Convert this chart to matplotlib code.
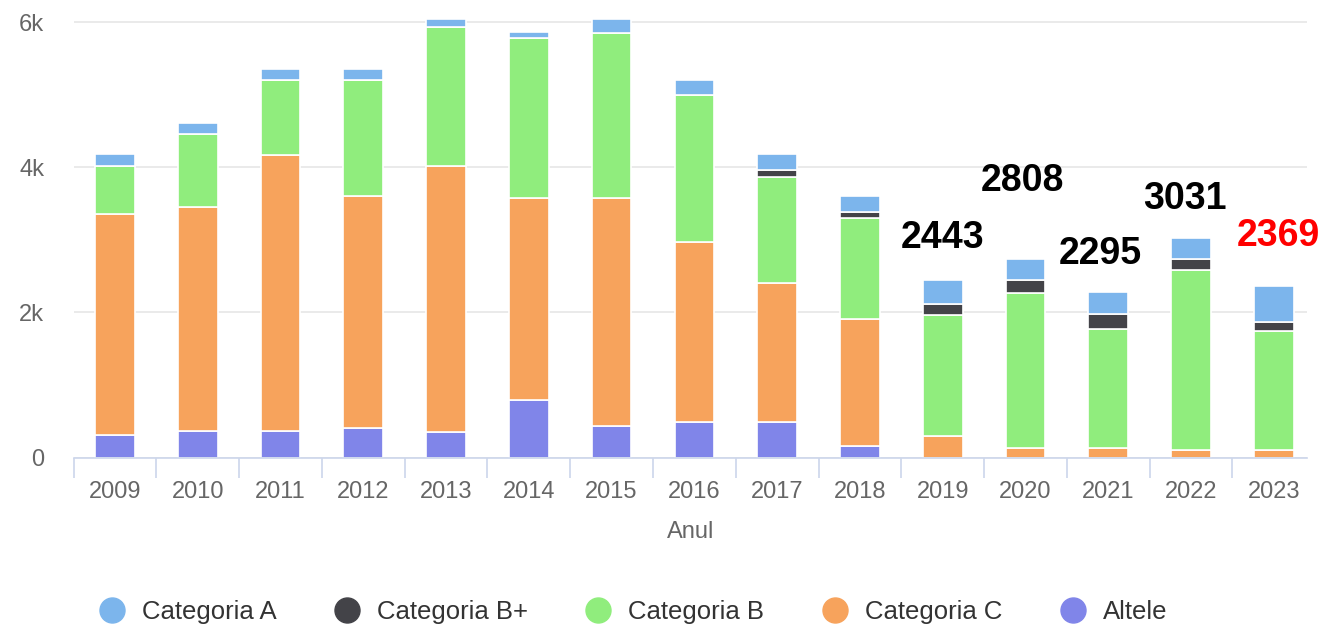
import numpy as np
import matplotlib
matplotlib.use('Agg')
import matplotlib.pyplot as plt
from matplotlib.lines import Line2D
from matplotlib.ticker import FixedLocator, FuncFormatter

plt.rcParams['font.family'] = ['Liberation Sans', 'DejaVu Sans']

# date
years = ['2009', '2010', '2011', '2012', '2013', '2014', '2015', '2016',
         '2017', '2018', '2019', '2020', '2021', '2022', '2023']
cat_a = [170, 150, 140, 140, 110, 80, 200, 200, 230, 210, 333, 295, 295, 300, 500]
cat_bplus = [0, 0, 0, 0, 0, 0, 0, 0, 90, 90, 140, 175, 210, 150, 125]
cat_b = [660, 1010, 1040, 1610, 1910, 2210, 2270, 2030, 1460, 1390, 1680, 2140, 1650, 2480, 1640]
cat_c = [3050, 3080, 3800, 3200, 3680, 2790, 3140, 2480, 1920, 1750, 290, 130, 125, 100, 100]
altele = [310, 370, 370, 400, 345, 790, 440, 490, 490, 160, 0, 0, 0, 0, 0]

# totaluri scrise deasupra ultimilor ani
label_years = ['2019', '2020', '2021', '2022', '2023']
label_values = [2443, 2808, 2295, 3031, 2369]
label_colors = ['black', 'black', 'black', 'black', 'red']
label_y = [3020, 3811, 2811, 3566, 3055]
label_dx = [0.0, -0.04, -0.1, -0.08, 0.05]

series_names = ['Categoria A', 'Categoria B+', 'Categoria B', 'Categoria C', 'Altele']
series_colors = ['#7cb5ec', '#434348', '#90ed7d', '#f7a35c', '#8085e9']

fig = plt.figure(figsize=(13.22, 6.25), dpi=100)
ax = fig.add_axes([73.5 / 1322, (625 - 457.5) / 625, (1307 - 73.5) / 1322, 6100 * 0.07253 / 625])

x = np.arange(len(years))
width = 0.48

# stivuire de jos in sus: Altele, C, B, B+, A
stack = [altele, cat_c, cat_b, cat_bplus, cat_a]
stack_colors = series_colors[::-1]
bottom = np.zeros(len(years))
for vals, col in zip(stack, stack_colors):
    vals = np.array(vals, dtype=float)
    ax.bar(x, vals, width, bottom=bottom, color=col, edgecolor='white', linewidth=1.2, zorder=3)
    bottom += vals

for yr, val, col, yy, dx in zip(label_years, label_values, label_colors, label_y, label_dx):
    i = years.index(yr)
    ax.text(i + dx, yy, str(val), ha='center', va='center', fontsize=27,
            fontweight='bold', color=col, zorder=5)

ax.set_xlim(-0.5, 14.4)
ax.set_ylim(0, 6100)

ax.set_yticks([0, 2000, 4000, 6000])
ax.yaxis.set_major_formatter(FuncFormatter(lambda v, p: '0' if v == 0 else f'{int(v / 1000)}k'))
ax.grid(axis='y', color='#e6e6e6', linewidth=1.2, zorder=0)
ax.tick_params(axis='y', length=0, pad=21, labelsize=17, labelcolor='#666666')

ax.set_xticks(x)
ax.set_xticklabels(years)
ax.xaxis.set_minor_locator(FixedLocator(np.arange(-0.5, len(years), 1.0)))
ax.tick_params(axis='x', which='major', length=0, pad=17, labelsize=17, labelcolor='#666666')
ax.tick_params(axis='x', which='minor', length=14.5, width=1.2, color='#ccd6eb')

for side in ['top', 'right', 'left']:
    ax.spines[side].set_visible(False)
ax.spines['bottom'].set_color('#ccd6eb')
ax.spines['bottom'].set_linewidth(1.2)
ax.spines['bottom'].set_zorder(4)

ax.set_xlabel('Anul', fontsize=17, color='#666666', labelpad=13)

handles = [Line2D([0], [0], marker='o', linestyle='none', markersize=18,
                  markerfacecolor=c, markeredgecolor=c) for c in series_colors]
fig.legend(handles, series_names, ncol=5, loc='center left',
           bbox_to_anchor=(99 / 1322, 1 - 612 / 625), frameon=False,
           fontsize=18.5, labelcolor='#333333', handlelength=1.0,
           handletextpad=0.66, columnspacing=2.25, borderpad=0, borderaxespad=0)

fig.savefig('out.png', dpi=100)
